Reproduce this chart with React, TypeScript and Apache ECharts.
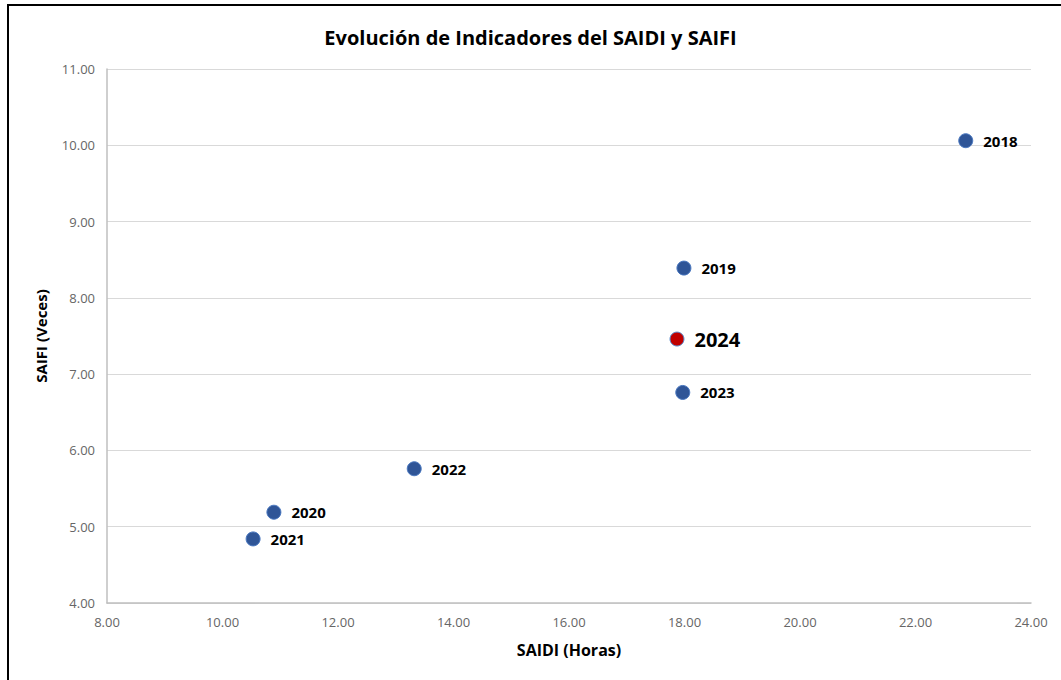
import React, { useEffect, useRef } from "react";
import * as echarts from "echarts";

const years = ["2018", "2019", "2020", "2021", "2022", "2023", "2024"];
const saidi = [22.87, 17.99, 10.89, 10.53, 13.32, 17.97, 17.87];
const saifi = [10.06, 8.39, 5.19, 4.84, 5.76, 6.76, 7.46];
const highlightYear = "2024";
const xTicks = { min: 8, max: 24, interval: 2 };
const yTicks = { min: 4, max: 11, interval: 1 };

export default function App() {
  const ref = useRef<HTMLDivElement>(null);
  useEffect(() => {
    document.body.style.margin = "0";
    const chart = echarts.init(ref.current!, null, { renderer: "svg" });
    const font = "'Open Sans', 'Noto Sans', sans-serif";
    const data = years.map((y, i) => {
      const hi = y === highlightYear;
      return {
        value: [saidi[i], saifi[i]],
        name: y,
        symbolSize: 14,
        itemStyle: {
          color: hi ? "#C00000" : "#2F5597",
          borderColor: hi ? "#5B8FD0" : "#4A78C0",
          borderWidth: 1,
          opacity: 1,
        },
        label: {
          fontSize: hi ? 20 : 15,
          distance: 10,
        },
      };
    });
    chart.setOption({
      animation: false,
      backgroundColor: "#fff",
      title: {
        text: "Evolución de Indicadores del SAIDI y SAIFI",
        left: "center",
        top: 22,
        textStyle: { fontFamily: font, fontSize: 20, fontWeight: "bold", color: "#000" },
      },
      grid: { left: 107, right: 30, top: 69, bottom: 77 },
      xAxis: {
        type: "value",
        min: xTicks.min,
        max: xTicks.max,
        interval: xTicks.interval,
        name: "SAIDI (Horas)",
        nameLocation: "middle",
        nameGap: 39,
        nameTextStyle: { fontFamily: font, fontSize: 16, fontWeight: "bold", color: "#000" },
        axisLine: { show: true, lineStyle: { color: "#BFBFBF", width: 1.5 } },
        axisTick: { show: false },
        splitLine: { show: false },
        axisLabel: {
          fontFamily: font,
          fontSize: 13,
          color: "#666666",
          margin: 12,
          formatter: (v: number) => v.toFixed(2),
        },
      },
      yAxis: {
        type: "value",
        min: yTicks.min,
        max: yTicks.max,
        interval: yTicks.interval,
        name: "SAIFI (Veces)",
        nameLocation: "middle",
        nameGap: 59,
        nameTextStyle: { fontFamily: font, fontSize: 15, fontWeight: "bold", color: "#000" },
        axisLine: { show: true, lineStyle: { color: "#BFBFBF", width: 1.5 } },
        axisTick: { show: false },
        splitLine: { show: true, lineStyle: { color: "#D9D9D9", width: 1 } },
        axisLabel: {
          fontFamily: font,
          fontSize: 13,
          color: "#666666",
          margin: 12,
          formatter: (v: number) => v.toFixed(2),
        },
      },
      series: [
        {
          type: "scatter",
          data,
          itemStyle: { opacity: 1 },
          label: {
            show: true,
            position: "right",
            formatter: (p: any) => p.name,
            fontFamily: font,
            fontWeight: "bold",
            color: "#000",
          },
        },
      ],
      graphic: [
        {
          type: "line",
          shape: { x1: 7, y1: 5, x2: 1061, y2: 5 },
          style: { stroke: "#000", lineWidth: 2 },
        },
        {
          type: "line",
          shape: { x1: 8, y1: 4, x2: 8, y2: 680 },
          style: { stroke: "#000", lineWidth: 2 },
        },
      ],
    });
    return () => chart.dispose();
  }, []);
  return <div ref={ref} style={{ width: 1061, height: 680 }} />;
}
